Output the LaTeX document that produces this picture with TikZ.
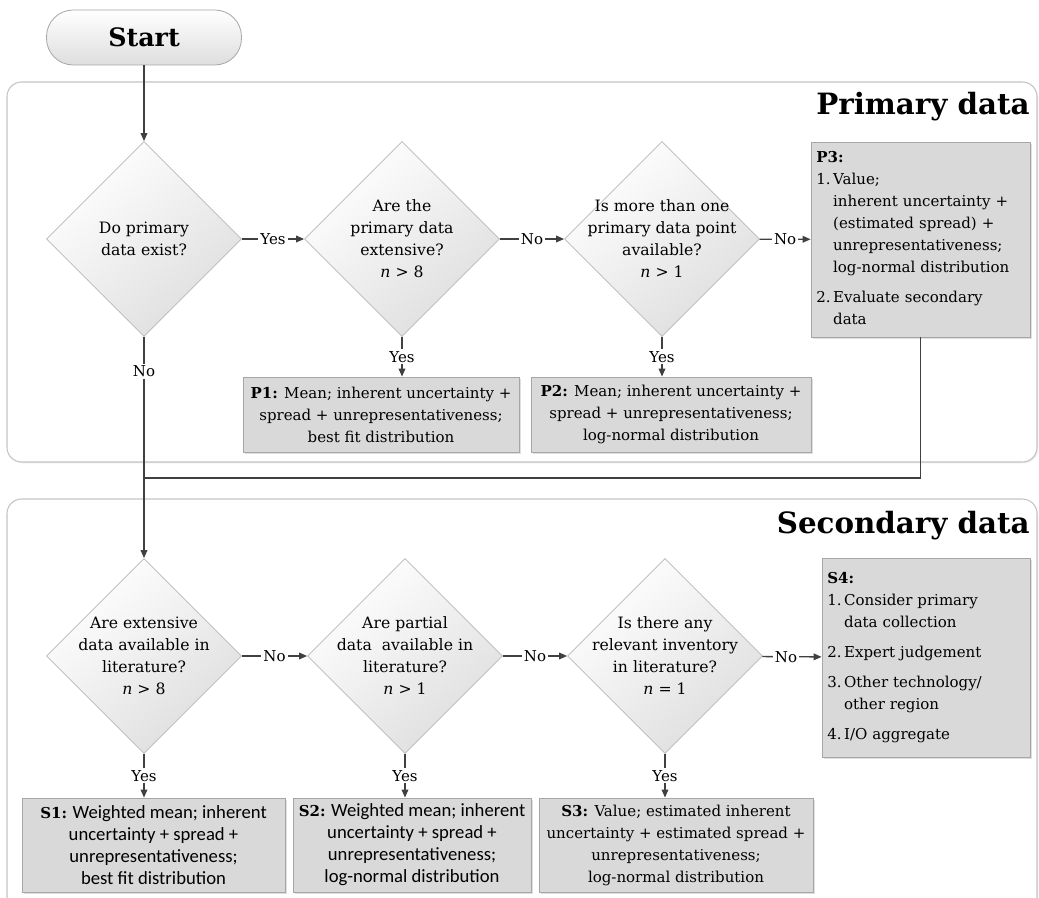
\documentclass[tikz,border=0pt]{standalone}
\usepackage{fontspec}
\setmainfont{DejaVu Serif}
\newfontfamily\calibrifont{Carlito}
\usepackage{xcolor}
\usetikzlibrary{arrows.meta,shapes.geometric,shadows,calc,positioning}

\definecolor{linegray}{HTML}{404040}
\definecolor{boxgray}{HTML}{D9D9D9}
\definecolor{edgegray}{HTML}{A6A6A6}
\definecolor{panelgray}{HTML}{C4C4C4}

\begin{document}
\begin{tikzpicture}[x=0.75pt,y=-0.75pt]
			\tikzstyle{every node}=[font=\fontsize{11.25}{16.5}\selectfont]
			\tikzstyle{panel}=[draw=panelgray, line width=0.8pt, rounded corners=11pt, fill=white, drop shadow={opacity=0.15, shadow xshift=1pt, shadow yshift=-1pt}]
			\tikzstyle{heading}=[font=\fontsize{22}{26}\selectfont\bfseries, anchor=base east, inner sep=0pt]
			\tikzstyle{decision}=[diamond, draw=edgegray!80, line width=0.6pt, minimum width=146.25pt, minimum height=146.25pt, inner sep=0pt, top color=white, bottom color=black!13, shading angle=40]
			\tikzstyle{question}=[align=center, inner sep=0pt, font=\fontsize{11.75}{16.5}\selectfont]
			\tikzstyle{result}=[rectangle, draw=edgegray, line width=0.6pt, fill=boxgray, align=center, inner sep=4pt, drop shadow={opacity=0.25, shadow xshift=1.2pt, shadow yshift=-1.2pt}]
			\tikzstyle{sansresult}=[result, font=\calibrifont\fontsize{14}{16.5}\selectfont]
			\tikzstyle{link}=[line width=1pt, draw=linegray]
			\tikzstyle{flow}=[link, ->, >={Triangle[length=6pt,width=5pt]}]
			\tikzstyle{lbl}=[fill=white, inner sep=1.5pt]
			\useasboundingbox (0,0) rectangle (1039,898);
			\draw [panel] (7,82) rectangle (1037,462);
			\draw [panel] (7,499) rectangle (1037,912);
			\node [heading] (ptitle) at (1030,115) {Primary data};
			\node [heading] (stitle) at (1030,533) {Secondary data};
			\node [rounded corners=20pt, draw=edgegray, line width=0.6pt, top color=white, bottom color=black!13, minimum width=146.25pt, minimum height=41.25pt, font=\fontsize{19}{22}\selectfont\bfseries] (start) at (144,37.5) {Start};
			\node [decision] (d1) at (144,239) {};
			\node [decision] (d2) at (402,239) {};
			\node [decision] (d3) at (662,239) {};
			\node [question] (d1t) at (d1) {Do primary\\data exist?};
			\node [question] (d2t) at (d2) {Are the\\primary data\\extensive?\\\textit{n} > 8};
			\node [question] (d3t) at (d3) {Is more than one\\primary data point\\available?\\\textit{n} > 1};
			\node [result, minimum width=207pt, minimum height=56.25pt] (p1) at (381,414.5) {\textbf{P1:} Mean; inherent uncertainty +\\spread + unrepresentativeness;\\best fit distribution};
			\node [result, minimum width=210pt, minimum height=56.25pt] (p2) at (671,414.5) {\textbf{P2:} Mean; inherent uncertainty +\\spread + unrepresentativeness;\\log-normal distribution};
			\node [result, text width=156.25pt, minimum height=146.25pt, align=left] (p3) at (920.5,239.5) {\begin{tabular}{@{}l@{\,}l@{}}\multicolumn{2}{@{}l@{}}{\textbf{P3:}}\\1. & Value;\\ & inherent uncertainty +\\ & (estimated spread) +\\ & unrepresentativeness;\\ & log-normal distribution\\[6pt]2. & Evaluate secondary\\ & data\end{tabular}};
			\node [decision] (ds1) at (144,656) {};
			\node [decision] (ds2) at (405,656) {};
			\node [decision] (ds3) at (665,656) {};
			\node [question] (ds1t) at (ds1) {Are extensive\\data available in\\literature?\\\textit{n} > 8};
			\node [question] (ds2t) at (ds2) {Are partial\\data\ \ available in\\literature?\\\textit{n} > 1};
			\node [question] (ds3t) at (ds3) {Is there any\\relevant inventory\\in literature?\\\textit{n} = 1};
			\node [sansresult, minimum width=197.25pt, minimum height=70.5pt] (s1) at (153.5,845) {{\rmfamily\fontsize{11.25}{16.5}\selectfont\bfseries S1:} Weighted mean; inherent\\uncertainty + spread +\\unrepresentativeness;\\best fit distribution};
			\node [sansresult, minimum width=178.5pt, minimum height=70.5pt] (s2) at (412,845) {{\rmfamily\fontsize{11.25}{16.5}\selectfont\bfseries S2:} Weighted mean; inherent\\uncertainty + spread +\\unrepresentativeness;\\log-normal distribution};
			\node [result, minimum width=205.5pt, minimum height=70.5pt] (s3) at (676,845) {\textbf{S3:} Value; estimated inherent\\uncertainty + estimated spread +\\unrepresentativeness;\\log-normal distribution};
			\node [result, text width=148pt, minimum height=149.25pt, align=left] (s4) at (926,657.5) {\begin{tabular}{@{}l@{\,}l@{}}\multicolumn{2}{@{}l@{}}{\textbf{S4:}}\\1. & Consider primary\\ & data collection\\[6pt]2. & Expert judgement\\[6pt]3. & Other technology/\\ & other region\\[6pt]4. & I/O aggregate\end{tabular}};
			\coordinate (merge) at (144,478);
			\draw [flow] (start) -- (d1);
			\draw [flow] (d1) -- node [lbl] {Yes} (d2);
			\draw [flow] (d2) -- node [lbl] {No} (d3);
			\draw [flow] (d3) -- node [lbl] {No} (p3);
			\draw [flow] (d2.south) -- node [lbl] {Yes} (d2.south |- p1.north);
			\draw [flow] (d3.south) -- node [lbl] {Yes} (d3.south |- p2.north);
			\draw [flow] (d1) -- node [lbl, pos=0.157] {No} (ds1);
			\draw [link] (p3.south) |- (merge);
			\draw [flow] (ds1) -- node [lbl] {No} (ds2);
			\draw [flow] (ds2) -- node [lbl] {No} (ds3);
			\draw [flow] (ds3) -- node [lbl, pos=0.4] {No} (s4);
			\draw [flow] (ds1.south) -- node [lbl] {Yes} (ds1.south |- s1.north);
			\draw [flow] (ds2.south) -- node [lbl] {Yes} (ds2.south |- s2.north);
			\draw [flow] (ds3.south) -- node [lbl] {Yes} (ds3.south |- s3.north);
		\end{tikzpicture}
\end{document}
